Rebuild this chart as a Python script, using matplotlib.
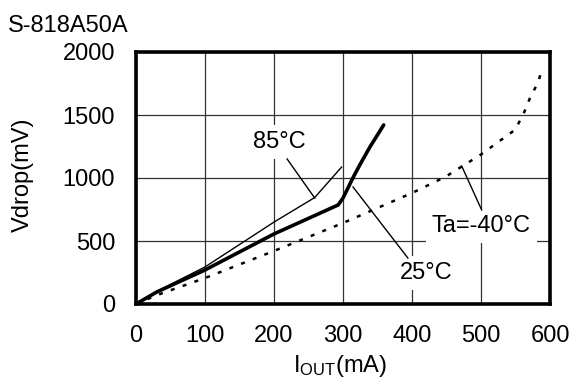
import matplotlib
matplotlib.use("Agg")
import matplotlib.pyplot as plt

plt.rcParams['font.family'] = ['Liberation Sans', 'DejaVu Sans']
plt.rcParams['mathtext.fontset'] = 'custom'
plt.rcParams['mathtext.rm'] = 'Liberation Sans'

title = "S-818A50A"
x_ticks = [0, 100, 200, 300, 400, 500, 600]
y_ticks = [0, 500, 1000, 1500, 2000]

# 85 degC (thin line)
i85 = [0, 30, 100, 200, 259, 298]
v85 = [0, 100, 294, 650, 845, 1087]
# 25 degC (thick line)
i25 = [0, 30, 100, 200, 293, 300, 315, 325, 339, 359]
v25 = [0, 95, 270, 556, 786, 841, 1008, 1110, 1246, 1421]
# -40 degC (dotted)
im40 = [0, 30, 100, 200, 300, 400, 448, 499, 525, 549, 561, 571, 583, 588]
vm40 = [0, 70, 206, 421, 643, 881, 1008, 1183, 1286, 1381, 1500, 1635, 1762, 1857]

labels = ["85°C", "25°C", "Ta=-40°C"]
label_pos = [(207.5, 1238), (420, 198), (500.7, 571)]
leader_lines = [((219, 259), (1151, 841)), ((314.5, 394), (929, 365)), ((472, 501), (1095, 746))]

FS = 17

fig = plt.figure(figsize=(5.72, 3.79), dpi=100)
ax = fig.add_axes([136/572, 1-304/379, 414/572, 252/379])
ax.set_xlim(0, 600)
ax.set_ylim(0, 2000)
ax.set_xticks(x_ticks)
ax.set_yticks(y_ticks)
ax.tick_params(length=0, labelsize=FS)
ax.tick_params(axis='y', pad=15)
ax.tick_params(axis='x', pad=15)
ax.grid(True, color='#333333', lw=0.9)
ax.set_axisbelow(True)
for s in ax.spines.values():
    s.set_linewidth(2.6)
    s.set_zorder(10)

ax.plot(i85, v85, color='black', lw=1.0, zorder=4)
ax.plot(i25, v25, color='black', lw=2.6, zorder=4, solid_capstyle='round')
ax.plot(im40, vm40, color='black', lw=1.8, linestyle=(0, (1.6, 3.4)), zorder=4)

for (xs, ys) in leader_lines:
    ax.plot(xs, ys, color='black', lw=1.0, zorder=5)
for lab, (x, y) in zip(labels, label_pos):
    ax.text(x, y, lab, fontsize=FS, ha='center', va='baseline', zorder=3,
            bbox=dict(boxstyle='square,pad=0.25', fc='white', ec='none'))

fig.text(8/572, 1-32/379, title, fontsize=FS, ha='left', va='baseline')
fig.text(23/572, 1-175/379, "Vdrop(mV)", fontsize=FS, rotation=90, ha='center', va='center')
fig.text(340/572, 1-372/379, r'$\mathregular{I_{OUT}}$(mA)', fontsize=FS, ha='center', va='baseline')

fig.savefig("out.png", dpi=100)
